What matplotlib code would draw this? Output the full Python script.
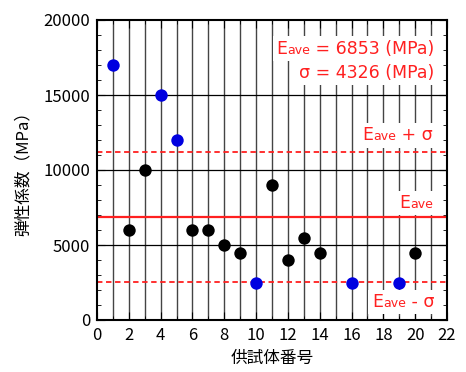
import matplotlib
matplotlib.use('Agg')
import matplotlib.pyplot as plt
import numpy as np
from matplotlib.offsetbox import TextArea, HPacker, AnnotationBbox
from matplotlib.ticker import MultipleLocator

plt.rcParams['font.family'] = ['Noto Sans CJK JP', 'DejaVu Sans']

# Data
specimen = [1, 2, 3, 4, 5, 6, 7, 8, 9, 10, 11, 12, 13, 14, 16, 19, 20]
modulus = [17000, 6000, 10000, 15000, 12000, 6000, 6000, 5000, 4500, 2500,
           9000, 4000, 5500, 4500, 2500, 2500, 4500]
outlier = [True, False, False, True, True, False, False, False, False, True,
           False, False, False, False, True, True, False]
e_ave = 6853
sigma = 4326

RED = '#ff2020'
FS = 12.5

fig = plt.figure(figsize=(4.66, 3.72), dpi=100)
ax = fig.add_axes([97 / 466, 1 - 320 / 372, 350 / 466, 300 / 372])

ax.set_xlim(0, 22)
ax.set_ylim(0, 20000)

# grid lines
for xv in range(1, 22):
    ax.axvline(xv, color='#444444', linewidth=1.0, zorder=1)
for yv in [5000, 10000, 15000]:
    ax.axhline(yv, color='black', linewidth=0.9, zorder=1)

# average and +/- sigma lines
ax.axhline(e_ave, color=RED, linewidth=1.6, zorder=2)
ax.axhline(e_ave + sigma, color=RED, linewidth=1.3, linestyle=(0, (3, 2)), zorder=2)
ax.axhline(e_ave - sigma, color=RED, linewidth=1.3, linestyle=(0, (3, 2)), zorder=2)

x = np.array(specimen)
y = np.array(modulus)
m = np.array(outlier)
ax.scatter(x[~m], y[~m], s=80, color='black', zorder=3, linewidths=0)
ax.scatter(x[m], y[m], s=80, color='#0000e0', zorder=3, linewidths=0)

ax.xaxis.set_major_locator(MultipleLocator(2))
ax.xaxis.set_minor_locator(MultipleLocator(1))
ax.yaxis.set_major_locator(MultipleLocator(5000))
ax.yaxis.set_minor_locator(MultipleLocator(1000))
ax.tick_params(which='both', direction='in', top=True, right=True)
ax.tick_params(which='major', length=6, labelsize=12, pad=5)
ax.tick_params(which='minor', length=3)
for s in ax.spines.values():
    s.set_linewidth(1.5)

ax.set_xlabel('供試体番号', fontsize=12, labelpad=4)
ax.set_ylabel('弾性係数（MPa）', fontsize=12, labelpad=8)

box_style = dict(facecolor='white', edgecolor='none')


def e_label(xp, yp, rest, size=FS):
    parts = [TextArea('E', textprops=dict(color=RED, fontsize=size, family='DejaVu Sans')),
             TextArea('ave', textprops=dict(color=RED, fontsize=size * 0.72, family='DejaVu Sans'))]
    if rest:
        parts.append(TextArea(rest, textprops=dict(color=RED, fontsize=size, family='DejaVu Sans')))
    box = HPacker(children=parts, align='baseline', pad=0, sep=0)
    ab = AnnotationBbox(box, (xp, yp), xycoords='data', box_alignment=(1, 0.5),
                        frameon=True, pad=0.25, bboxprops=box_style, zorder=5)
    ax.add_artist(ab)


e_label(21.2, 18100, f' = {e_ave} (MPa)')
ax.text(21.2, 16450, f'σ = {sigma} (MPa)', color=RED, fontsize=FS,
        family='DejaVu Sans', ha='right', va='center', zorder=5,
        bbox=dict(box_style, pad=2))
e_label(21.1, 12300, ' + σ')
e_label(21.1, 7800, '')
e_label(21.2, 1200, ' - σ')

fig.savefig('out.png', dpi=100)
